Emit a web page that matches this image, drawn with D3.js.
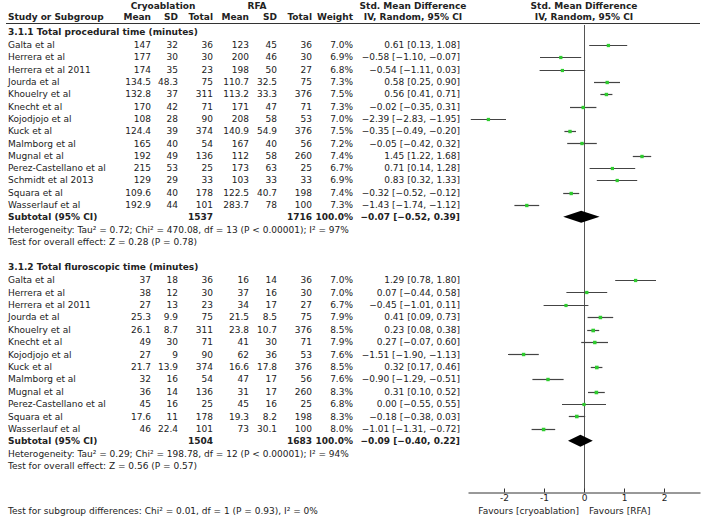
<!DOCTYPE html>
<html><head><meta charset="utf-8">
<script src="https://cdn.jsdelivr.net/npm/d3@7"></script>
<style>
body{margin:0;background:#fff;}
svg text{font-family:"DejaVu Sans",sans-serif;font-size:9px;fill:#222;}
.b{font-weight:bold;}
</style></head>
<body><svg id="c" width="708" height="523"></svg>
<script>
// ---- Data ----
const studies1 = ["Galta et al","Herrera et al","Herrera et al 2011","Jourda et al","Khouelry et al","Knecht et al","Kojodjojo et al","Kuck et al","Malmborg et al","Mugnal et al","Perez-Castellano et al","Schmidt et al 2013","Squara et al","Wasserlauf et al"];
const cryoMean1 = ["147","177","174","134.5","132.8","170","108","124.4","165","192","215","129","109.6","192.9"];
const cryoSD1   = ["32","30","35","48.3","37","42","28","39","40","49","53","29","40","44"];
const cryoN1    = ["36","30","23","75","311","71","90","374","54","136","25","33","178","101"];
const rfaMean1  = ["123","200","198","110.7","113.2","171","208","140.9","167","112","173","103","122.5","283.7"];
const rfaSD1    = ["45","46","50","32.5","33.3","47","58","54.9","40","58","63","33","40.7","78"];
const rfaN1     = ["36","30","27","75","376","71","53","376","56","260","25","33","198","100"];
const weight1   = [7.0,6.9,6.8,7.3,7.5,7.3,7.0,7.5,7.2,7.4,6.7,6.9,7.4,7.3];
const smd1      = [0.61,-0.58,-0.54,0.58,0.56,-0.02,-2.39,-0.35,-0.05,1.45,0.71,0.83,-0.32,-1.43];
const lo1       = [0.13,-1.10,-1.11,0.25,0.41,-0.35,-2.83,-0.49,-0.42,1.22,0.14,0.32,-0.52,-1.74];
const hi1       = [1.08,-0.07,0.03,0.90,0.71,0.31,-1.95,-0.20,0.32,1.68,1.28,1.33,-0.12,-1.12];
const sub1      = {cryoN:"1537", rfaN:"1716", smd:-0.07, lo:-0.52, hi:0.39};

const studies2 = ["Galta et al","Herrera et al","Herrera et al 2011","Jourda et al","Khouelry et al","Knecht et al","Kojodjojo et al","Kuck et al","Malmborg et al","Mugnal et al","Perez-Castellano et al","Squara et al","Wasserlauf et al"];
const cryoMean2 = ["37","38","27","25.3","26.1","49","27","21.7","32","36","45","17.6","46"];
const cryoSD2   = ["18","12","13","9.9","8.7","30","9","13.9","16","14","16","11","22.4"];
const cryoN2    = ["36","30","23","75","311","71","90","374","54","136","25","178","101"];
const rfaMean2  = ["16","37","34","21.5","23.8","41","62","16.6","47","31","45","19.3","73"];
const rfaSD2    = ["14","16","17","8.5","10.7","30","36","17.8","17","17","16","8.2","30.1"];
const rfaN2     = ["36","30","27","75","376","71","53","376","56","260","25","198","100"];
const weight2   = [7.0,7.0,6.7,7.9,8.5,7.9,7.6,8.5,7.6,8.3,6.8,8.3,8.0];
const smd2      = [1.29,0.07,-0.45,0.41,0.23,0.27,-1.51,0.32,-0.90,0.31,0.00,-0.18,-1.01];
const lo2       = [0.78,-0.44,-1.01,0.09,0.08,-0.07,-1.90,0.17,-1.29,0.10,-0.55,-0.38,-1.31];
const hi2       = [1.80,0.58,0.11,0.73,0.38,0.60,-1.13,0.46,-0.51,0.52,0.55,0.03,-0.72];
const sub2      = {cryoN:"1504", rfaN:"1683", smd:-0.09, lo:-0.40, hi:0.22};

const groupTitles = ["3.1.1 Total procedural time (minutes)","3.1.2 Total fluroscopic time (minutes)"];
const hetText = ["Heterogeneity: Tau² = 0.72; Chi² = 470.08, df = 13 (P < 0.00001); I² = 97%",
                 "Heterogeneity: Tau² = 0.29; Chi² = 198.78, df = 12 (P < 0.00001); I² = 94%"];
const effText = ["Test for overall effect: Z = 0.28 (P = 0.78)","Test for overall effect: Z = 0.56 (P = 0.57)"];
const subgroupText = "Test for subgroup differences: Chi² = 0.01, df = 1 (P = 0.93), I² = 0%";
const tickValues = [-2,-1,0,1,2];
const favourLeft = "Favours [cryoablation]", favourRight = "Favours [RFA]";

// ---- Drawing ----
const svg = d3.select("#c");
const x = d3.scaleLinear().domain([-2.9, 2.9]).range([468, 700]);
const sq = d3.scaleSqrt().domain([0, 8.5]).range([0, 3.6]);
const fmt = d3.format(".2f");
const ciStr = (m,l,h)=> fmt(m)+" ["+fmt(l)+", "+fmt(h)+"]";

const colRight = {cm:151, cs:178, cn:213, rm:249, rs:277, rn:312, w:353, ci:460};

function txt(xp, yp, s, anchor, cls){
  svg.append("text").attr("x",xp).attr("y",yp).attr("dy","0.35em")
    .attr("text-anchor",anchor||"start").attr("class",cls||null).text(s);
}

// header
txt(163, 6, "Cryoablation", "middle", "b");
txt(257, 6, "RFA", "middle", "b");
txt(413, 6, "Std. Mean Difference", "middle", "b");
txt(584, 6, "Std. Mean Difference", "middle", "b");
txt(8, 17, "Study or Subgroup", "start", "b");
txt(colRight.cm, 17, "Mean", "end", "b");
txt(colRight.cs, 17, "SD", "end", "b");
txt(colRight.cn, 17, "Total", "end", "b");
txt(colRight.rm, 17, "Mean", "end", "b");
txt(colRight.rs, 17, "SD", "end", "b");
txt(colRight.rn, 17, "Total", "end", "b");
txt(colRight.w, 17, "Weight", "end", "b");
txt(413, 17, "IV, Random, 95% CI", "middle", "b");
txt(584, 17, "IV, Random, 95% CI", "middle", "b");
svg.append("line").attr("x1",6).attr("x2",700).attr("y1",23.5).attr("y2",23.5)
  .attr("stroke","#333").attr("stroke-width",1);

// zero line
svg.append("line").attr("x1",Math.round(x(0))+0.5).attr("x2",Math.round(x(0))+0.5)
  .attr("y1",25).attr("y2",492).attr("stroke","#555").attr("stroke-width",1);

const groups = [
  {title:groupTitles[0], top:31.5, step:12.3, studies:studies1, cm:cryoMean1, cs:cryoSD1, cn:cryoN1, rm:rfaMean1, rs:rfaSD1, rn:rfaN1, w:weight1, smd:smd1, lo:lo1, hi:hi1, sub:sub1, het:hetText[0], eff:effText[0]},
  {title:groupTitles[1], top:266.5, step:12.4, studies:studies2, cm:cryoMean2, cs:cryoSD2, cn:cryoN2, rm:rfaMean2, rs:rfaSD2, rn:rfaN2, w:weight2, smd:smd2, lo:lo2, hi:hi2, sub:sub2, het:hetText[1], eff:effText[1]}
];

groups.forEach(g=>{
  txt(8, g.top, g.title, "start", "b");
  g.studies.forEach((s,i)=>{
    const y = g.top + 13.5 + i*g.step;
    txt(8, y, s);
    txt(colRight.cm, y, g.cm[i], "end");
    txt(colRight.cs, y, g.cs[i], "end");
    txt(colRight.cn, y, g.cn[i], "end");
    txt(colRight.rm, y, g.rm[i], "end");
    txt(colRight.rs, y, g.rs[i], "end");
    txt(colRight.rn, y, g.rn[i], "end");
    txt(colRight.w, y, g.w[i].toFixed(1)+"%", "end");
    txt(colRight.ci, y, ciStr(g.smd[i],g.lo[i],g.hi[i]), "end");
    const yy = Math.round(y)+0.5;
    svg.append("line").attr("x1",x(g.lo[i])).attr("x2",x(g.hi[i])).attr("y1",yy).attr("y2",yy)
      .attr("stroke","#444").attr("stroke-width",1.2);
    const s2 = sq(g.w[i]);
    svg.append("rect").attr("x",x(g.smd[i])-s2/2).attr("y",yy-s2/2).attr("width",s2).attr("height",s2)
      .attr("fill","#2ecc2e");
  });
  const n = g.studies.length;
  const ys = g.top + 13.5 + n*g.step - 0.5;
  txt(8, ys, "Subtotal (95% CI)", "start", "b");
  txt(colRight.cn, ys, g.sub.cryoN, "end", "b");
  txt(colRight.rn, ys, g.sub.rfaN, "end", "b");
  txt(colRight.w, ys, "100.0%", "end", "b");
  txt(colRight.ci, ys, ciStr(g.sub.smd,g.sub.lo,g.sub.hi), "end", "b");
  const d = [[x(g.sub.lo),ys],[x(g.sub.smd),ys-6],[x(g.sub.hi),ys],[x(g.sub.smd),ys+6]];
  svg.append("path").attr("d", d3.line()(d)+"Z").attr("fill","#000");
  txt(8, ys + 13, g.het);
  txt(8, ys + 25.5, g.eff);
});

// axis
const axis = d3.axisBottom(x).tickValues(tickValues).tickSizeInner(-4).tickSizeOuter(0).tickPadding(2)
  .tickFormat(d3.format("d"));
const ag = svg.append("g").attr("transform","translate(0,492.5)").call(axis);
ag.select(".domain").attr("stroke","#333");
ag.selectAll(".tick line").attr("stroke","#333");
ag.selectAll(".tick text").attr("fill","#222").style("font-family","DejaVu Sans").style("font-size","9px");
ag.selectAll(".tick text").filter(d=>d<0).text(d=>"-"+Math.abs(d));

txt(x(0)-5, 510.7, favourLeft, "end");
txt(x(0)+5, 510.7, favourRight, "start");

txt(8, 510.7, subgroupText);
</script></body></html>
